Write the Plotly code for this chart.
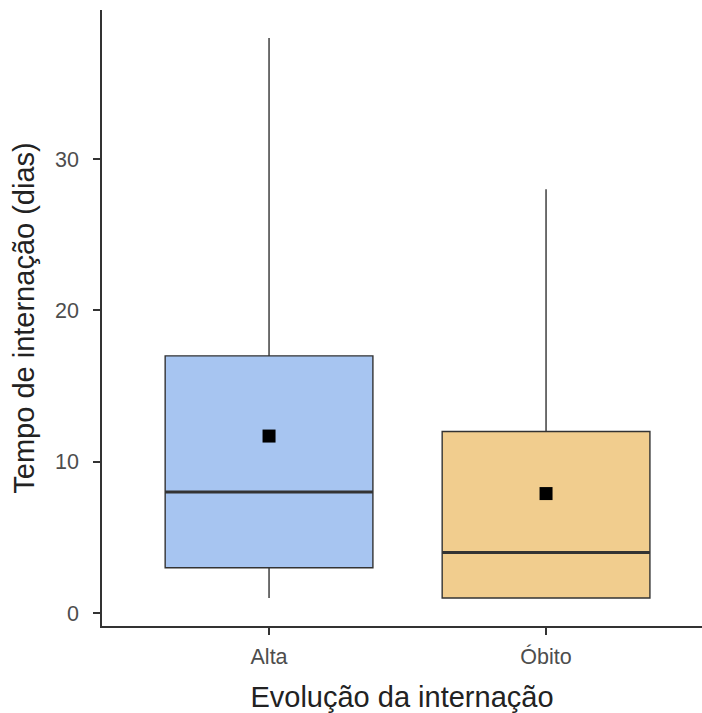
import plotly.graph_objects as go

categories = ["Alta", "Óbito"]
positions = [1, 2]
lower_fence = [1, 1]
q1 = [3, 1]
median = [8, 4]
q3 = [17, 12]
upper_fence = [38, 28]
mean = [11.7, 7.9]
fill_colors = ["#a7c5f1", "#f1cd8e"]
y_ticks = [0, 10, 20, 30]
box_width = 0.75

fig = go.Figure()
for i, cat in enumerate(categories):
    fig.add_trace(go.Box(
        x=[positions[i]], q1=[q1[i]], median=[median[i]], q3=[q3[i]],
        lowerfence=[lower_fence[i]], upperfence=[upper_fence[i]],
        width=box_width, fillcolor=fill_colors[i],
        line=dict(color="#333333", width=1.4), whiskerwidth=0,
        name=cat, showlegend=False, hoverinfo="skip",
    ))
    # thicker median line (ggplot style)
    fig.add_trace(go.Scatter(
        x=[positions[i] - box_width / 2, positions[i] + box_width / 2],
        y=[median[i], median[i]], mode="lines",
        line=dict(color="#333333", width=3), showlegend=False, hoverinfo="skip",
    ))

fig.add_trace(go.Scatter(
    x=positions, y=mean, mode="markers",
    marker=dict(symbol="square", size=13, color="black"),
    showlegend=False, hoverinfo="skip",
))

fig.update_layout(
    width=702, height=713,
    margin=dict(l=102, r=0, t=10, b=87),
    plot_bgcolor="white", paper_bgcolor="white",
    font=dict(family="Liberation Sans, Arial, sans-serif", color="#4d4d4d"),
    xaxis=dict(
        range=[0.397, 2.563], tickvals=positions, ticktext=categories,
        showgrid=False, zeroline=False, showline=True, linecolor="#333333", linewidth=1.5,
        ticks="outside", ticklen=7, tickcolor="#333333", tickwidth=1.5,
        ticklabelstandoff=3,
        tickfont=dict(size=21.5, color="#4d4d4d"),
        title=dict(text="Evolução da internação", font=dict(size=29, color="#222222"), standoff=20),
    ),
    yaxis=dict(
        range=[-0.85, 39.85], tickvals=y_ticks,
        showgrid=False, zeroline=False, showline=True, linecolor="#333333", linewidth=1.5,
        ticks="outside", ticklen=7, tickcolor="#333333", tickwidth=1.5,
        ticklabelstandoff=10,
        tickfont=dict(size=21.5, color="#4d4d4d"),
        title=dict(text="Tempo de internação (dias)", font=dict(size=29, color="#222222"), standoff=12),
    ),
)

fig.write_html(
    "out.html",
    config={"displayModeBar": False},
    post_script="document.body.style.margin='0';document.body.style.overflow='hidden';",
)
